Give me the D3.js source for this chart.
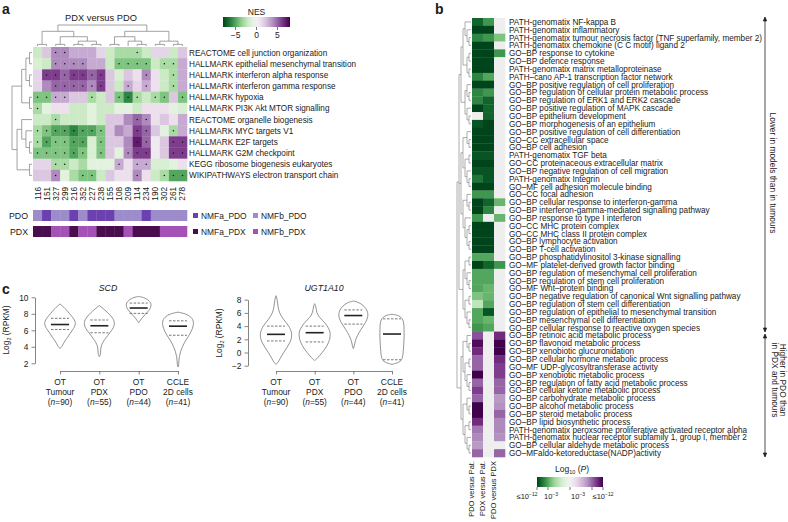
<!DOCTYPE html>
<html><head><meta charset="utf-8">
<script src="https://cdn.jsdelivr.net/npm/d3@7"></script>
<style>
body{margin:0;background:#fff}
svg{display:block}
text{font-family:"Liberation Sans",Arial,Helvetica,sans-serif;fill:#1a1a1a}
</style></head><body>
<svg id="chart" width="788" height="522"></svg>
<script>
// ================= DATA =================
// Panel a: NES heatmap (PDX versus PDO)
const nesSamples = ["116","151","327","299","216","352","227","238","155","108","209","114","234","190","302","261","278"];
const nesPathways = [
 "REACTOME cell junction organization",
 "HALLMARK epithelial mesenchymal transition",
 "HALLMARK interferon alpha response",
 "HALLMARK interferon gamma response",
 "HALLMARK hypoxia",
 "HALLMARK PI3K Akt MTOR signalling",
 "REACTOME organelle biogenesis",
 "HALLMARK MYC targets V1",
 "HALLMARK E2F targets",
 "HALLMARK G2M checkpoint",
 "KEGG ribosome biogenesis eukaryotes",
 "WIKIPATHWAYS electron transport chain"];
const nesValues = [
 [-2,2,4,4,3,3,3,1.5,-2,-3,-3,-3,-2,1.5,1.5,-2,2],
 [-1.5,-2,4,4,4,4,3,3,-2,-4,-4,-4,-4,-2,-3,-3,3],
 [1.5,6,6,5,6,6,5,6,2,-1.5,2,1,4,1,-2,-3,3],
 [1.5,4,5,5,5,5,4,6,2,-2,3,1.5,3,1,-2,-3,3],
 [-4,-4,3,3,2,2,-3,-2,2,-4,-6,-3,-2,-3,-4,2,-4],
 [-3,-1,1,1,-2,-2,-1,-2,-2,-1,-1,-2,1,1,1,-1,-1.5],
 [-2,-2,-3,-2,-2,-2,-1,-2,2,2,4,5,4,1,2,1,3],
 [-3,-4,-5,-5,-6,-5,-5,-4,2,4,3,6,5,2,-1,-3,3],
 [-3,-5,-4,-4,-5,-5,-1.5,-4,2,2,4,7,5,0.5,2,6,6],
 [-4,-4,-4,-4,-5,-4,-1.5,-4,2,-1,4,6,6,0.5,2,6,6],
 [1.5,1.5,-3,-3,-2,-3,-1,-1,-1,3,1,3,3,-1.5,-1.5,-1,1],
 [2,2,4,-1,-3,-4,-4,-2,2,1,1,4,1,-2,-3,-5,-5]];
const nesSignificant = [
 [0,0,1,1,0,0,0,0,0,0,0,1,0,0,0,0,0],
 [0,0,1,1,1,1,0,0,0,1,1,1,1,0,1,1,0],
 [0,1,1,1,1,1,1,1,0,0,0,0,1,0,0,1,0],
 [0,0,1,1,1,1,1,1,0,0,1,0,1,0,0,1,0],
 [1,1,1,1,0,0,1,0,0,1,1,1,0,1,1,0,1],
 [1,0,0,0,0,0,0,0,0,0,0,0,0,0,0,0,0],
 [0,0,1,0,0,0,0,0,0,0,0,1,1,0,0,0,0],
 [1,1,1,1,1,1,1,1,0,0,0,1,1,0,0,1,0],
 [1,1,1,1,1,1,0,1,0,0,0,1,1,0,0,1,1],
 [1,1,1,1,1,1,0,1,0,0,1,1,1,0,0,1,1],
 [0,0,1,1,0,0,0,0,0,1,0,1,1,0,0,0,0],
 [0,0,1,0,0,1,1,0,0,0,0,1,0,0,1,1,1]];
const pdoCluster = ["b","a","b","b","a","b","a","a","a","b","b","b","a","b","b","b","b"];
const pdxCluster = ["a","a","b","b","a","b","b","a","a","a","b","a","a","a","b","b","b"];
const clusterNames = {PDO:["NMFa_PDO","NMFb_PDO"], PDX:["NMFa_PDX","NMFb_PDX"]};
const nesTicks = [-5,0,5];
// dendrogram topologies (leaf = row/column index)
const nesColTree = [[[0,1],[[2,3],[[4,5],[6,7]]]],[[[8,9],[10,[11,12]]],[[13,14],[15,16]]]];
const nesRowTree = [[[[0,1],[2,3]],[4,5]],[[6,[7,[8,9]]],[10,11]]];

// Panel b: enrichment heatmap (signed -log10 P; negative = lower, positive = higher; null = n.s.)
const bComparisons = ["PDO versus Pat.","PDX versus Pat.","PDO versus PDX"];
const bTerms = [
 "PATH-genomatix NF-kappa B","PATH-genomatix inflammatory",
 "PATH-genomatix tumour necrosis factor (TNF superfamily, member 2)",
 "PATH-genomatix chemokine (C C motif) ligand 2","GO–BP response to cytokine","GO–BP defence response",
 "PATH-genomatix matrix metalloproteinase","PATH–cano AP-1 transcription factor network",
 "GO–BP positive regulation of cell proliferation","GO–BP regulation of cellular protein metabolic process",
 "GO–BP regulation of ERK1 and ERK2 cascade","GO–BP positive regulation of MAPK cascade",
 "GO–BP epithelium development","GO–BP morphogenesis of an epithelium",
 "GO–BP positive regulation of cell differentiation","GO–CC extracellular space","GO–BP cell adhesion",
 "PATH-genomatix TGF beta","GO–CC proteinaceous extracellular matrix","GO–BP negative regulation of cell migration",
 "PATH-genomatix Integrin","GO–MF cell adhesion molecule binding","GO–CC focal adhesion",
 "GO–BP cellular response to interferon-gamma","GO–BP interferon-gamma-mediated signalling pathway",
 "GO–BP response to type I interferon","GO–CC MHC protein complex","GO–CC MHC class II protein complex",
 "GO–BP lymphocyte activation","GO–BP T-cell activation","GO–BP phosphatidylinositol 3-kinase signalling",
 "GO–MF platelet-derived growth factor binding","GO–BP regulation of mesenchymal cell proliferation",
 "GO–BP regulation of stem cell proliferation","GO–MF Wnt–protein binding",
 "GO–BP negative regulation of canonical Wnt signalling pathway","GO–BP regulation of stem cell differentiation",
 "GO–BP regulation of epithelial to mesenchymal transition","GO–BP mesenchymal cell differentiation",
 "GO–BP cellular response to reactive oxygen species","GO–BP retinoic acid metabolic process",
 "GO–BP flavonoid metabolic process","GO–BP xenobiotic glucuronidation","GO–BP cellular hormone metabolic process",
 "GO–MF UDP-glycosyltransferase activity","GO–BP xenobiotic metabolic process",
 "GO–BP regulation of fatty acid metabolic process","GO–BP cellular ketone metabolic process",
 "GO–BP carbohydrate metabolic process","GO–BP alcohol metabolic process","GO–BP steroid metabolic process",
 "GO–BP lipid biosynthetic process","PATH-genomatix peroxsome proliferative activated receptor alpha",
 "PATH-genomatix nuclear receptor subfamily 1, group I, member 2","GO–BP cellular aldehyde metabolic process",
 "GO–MFaldo-ketoreductase(NADP)activity"];
const bPdoVsPat = [-10,-12,-8,-12,-12,-12,-12,-8,-12,-8,-8,-12,null,-11,-12,-12,-12,-11,-12,-11,-9,-12,-7,-12,-12,-7,-12,-12,-12,-12,-6,-12,-6,-6,-6,-4,-2,-6,-6,-7,
 7,11,9,6,6,12,6,8,6,12,12,9,5,4,3,6];
const bPdxVsPat = [-7,-12,-7,-12,-12,-12,-12,-6,-12,-7,-10,-10,-10,-12,-12,-12,-12,-11,-12,-11,-11,-12,-7,-10,-8,null,-12,-12,-12,-12,-6,-10,-6,-6,-5,-5,-6,-11,-5,-6,
 null,null,null,null,null,null,null,null,null,null,null,null,null,null,null,null];
const bPdoVsPdx = [null,null,-4,null,-7,null,null,null,null,null,null,null,null,null,null,null,null,null,null,null,null,null,null,-5,null,-5,null,null,null,null,null,-7,null,null,null,null,null,null,null,null,
 9,12,12,9,8,8,6,6,3,3.5,6,4,4,3.5,null,6];
const bTicks = [-12,-3,3,12];
const bRowTree = [
 [
  [[[0,[1,[2,3]]],[[4,5],[6,7]]],[[8,[9,10]],[11,[12,13]]]],
  [[[14,[15,16]],[[17,18],[19,[20,21]]]],[[22,[23,24]],[25,[[26,27],[28,29]]]]],
  [[[30,31],[32,[33,34]]],[[35,36],[37,[38,39]]]]
 ],
 [[[40,[41,42]],[[43,44],[45,[46,47]]]],[[48,[49,50]],[[51,52],[53,[54,55]]]]]
];

// Panel c: violin plots (knots: [log2 RPKM, relative density width])
const vGroups = [["OT","Tumour","90"],["OT","PDX","55"],["OT","PDO","44"],["CCLE","2D cells","41"]];
const scdShapes = [
 [[3.8,0],[4.0,0.12],[4.4,0.2],[5.0,0.42],[5.6,0.62],[6.2,0.85],[6.8,1],[7.4,0.88],[8.0,0.6],[8.6,0.35],[9.0,0.12],[9.2,0]],
 [[2.8,0],[3.0,0.07],[3.5,0.08],[4.0,0.1],[4.5,0.2],[5.0,0.38],[5.7,0.65],[6.3,0.9],[7.0,0.97],[7.6,0.8],[8.2,0.5],[8.7,0.2],[9.0,0]],
 [[6.9,0],[7.2,0.1],[7.6,0.25],[8.0,0.45],[8.4,0.65],[8.9,0.78],[9.3,0.78],[9.7,0.6],[10.0,0.3],[10.1,0]],
 [[1.55,0],[1.8,0.05],[2.3,0.05],[2.8,0.08],[3.4,0.15],[4.0,0.27],[4.7,0.45],[5.4,0.7],[6.2,0.92],[7.0,1],[7.6,0.85],[8.0,0.5],[8.2,0]]];
const scdStats = [[6.1,6.7,7.45],[5.7,6.55,7.25],[8.05,8.7,9.3],[5.4,6.5,7.15]]; // q1, median, q3
const ugtShapes = [
 [[-1.8,0],[-1.6,0.1],[-1,0.24],[0,0.47],[1,0.76],[2,0.97],[3,1],[4,0.82],[5,0.47],[6,0.2],[7,0.12],[8,0.08],[8.6,0]],
 [[-1.2,0],[-1,0.12],[-0.5,0.3],[0.5,0.65],[1.5,0.88],[2.5,1],[3.5,0.94],[4.5,0.65],[5.3,0.3],[6,0.12],[7,0.08],[7.4,0]],
 [[0.6,0],[1,0.06],[1.8,0.12],[2.5,0.24],[3.5,0.47],[4.5,0.76],[5.5,0.94],[6.3,0.88],[7,0.7],[7.6,0.35],[7.8,0]],
 [[-1.8,0],[-1.5,0.47],[-1,0.65],[0,0.7],[2,0.76],[4,0.76],[5,0.7],[5.6,0.47],[5.8,0]]];
const ugtStats = [[1.75,2.75,4.0],[1.6,3.0,4.0],[4.3,5.6,6.45],[-1.1,2.8,5.1]];
const scdTicks = [2,4,6,8,10];
const ugtTicks = [-2,0,2,4,6,8];

// ================= DRAWING =================
const svg = d3.select("#chart");
const GRAY = "#8a8a8a";

function dendro(g, tree, leafPos, hPos, orient){
  const H = (function height(n){return Array.isArray(n)? d3.max(n,height)+1 : 0;})(tree);
  function walk(n){
    if(!Array.isArray(n)) return {h:0,p:leafPos(n)};
    const k = n.map(walk);
    const h = d3.max(k,d=>d.h)+1;
    const hp = hPos(h/H), p=(k[0].p+k[k.length-1].p)/2;
    const seg = (a,b,c,d)=> orient==="top" ? [[a,b],[c,d]] : [[b,a],[d,c]];
    k.forEach(c=>{
      const s = seg(c.p, hPos(c.h/H), c.p, hp);
      g.append("line").attr("x1",s[0][0]).attr("y1",s[0][1]).attr("x2",s[1][0]).attr("y2",s[1][1]);
    });
    const s = seg(k[0].p,hp,k[k.length-1].p,hp);
    g.append("line").attr("x1",s[0][0]).attr("y1",s[0][1]).attr("x2",s[1][0]).attr("y2",s[1][1]);
    return {h,p};
  }
  walk(tree);
}

// ---- Panel labels
[["a",2,14],["b",435,14],["c",2,294]].forEach(([t,x,y])=>
  svg.append("text").attr("x",x).attr("y",y).attr("font-size",14).attr("font-weight","bold").text(t));

// ---- Panel a
const nesColor = v => d3.interpolatePRGn(Math.max(0,Math.min(1,(8-v)/16)));
const ax = d3.scaleBand().domain(d3.range(nesSamples.length)).range([33,187]);
const ay = d3.scaleBand().domain(d3.range(nesPathways.length)).range([47,181]);
const ga = svg.append("g");
svg.append("text").attr("x",101).attr("y",21).attr("text-anchor","middle").attr("font-size",9.3).text("PDX versus PDO");
nesValues.forEach((row,i)=>row.forEach((v,j)=>{
  ga.append("rect").attr("x",ax(j)).attr("y",ay(i)).attr("width",ax.bandwidth()+0.3).attr("height",ay.bandwidth()+0.3).attr("fill",nesColor(v));
  if(nesSignificant[i][j]) ga.append("circle").attr("cx",ax(j)+ax.bandwidth()/2).attr("cy",ay(i)+ay.bandwidth()/2).attr("r",0.75).attr("fill","#111");
}));
nesPathways.forEach((p,i)=>svg.append("text").attr("x",189).attr("y",ay(i)+ay.bandwidth()/2+3).attr("font-size",8.2).text(p));
nesSamples.forEach((s,j)=>svg.append("text").attr("transform",`translate(${ax(j)+ax.bandwidth()/2+3},187) rotate(-90)`).attr("text-anchor","end").attr("font-size",8.2).text(s));
const gcd = svg.append("g").attr("stroke",GRAY).attr("stroke-width",0.8);
dendro(gcd, nesColTree, i=>ax(i)+ax.bandwidth()/2, t=>46-21*Math.pow(t,1.6), "top");
const grd = svg.append("g").attr("stroke",GRAY).attr("stroke-width",0.8);
dendro(grd, nesRowTree, i=>ay(i)+ay.bandwidth()/2, t=>32-20*Math.pow(t,1.3), "left");

// NMF cluster bars
const nmfColors = {NMFa_PDO:"#6b40b0",NMFb_PDO:"#9d8ccc",NMFa_PDX:"#4a0d4e",NMFb_PDX:"#a452b5"};
[["PDO",pdoCluster,210],["PDX",pdxCluster,226]].forEach(([name,cl,y])=>{
  svg.append("text").attr("x",28).attr("y",y+8.5).attr("text-anchor","end").attr("font-size",8.8).text(name);
  cl.forEach((c,j)=>svg.append("rect").attr("x",ax(j)).attr("y",y).attr("width",ax.bandwidth()+0.3).attr("height",11)
    .attr("fill",nmfColors[c==="a"?clusterNames[name][0]:clusterNames[name][1]]));
  clusterNames[name].forEach((n,k)=>{
    const lx = 193+k*60;
    svg.append("rect").attr("x",lx).attr("y",y+3).attr("width",5).attr("height",5).attr("fill",nmfColors[n]);
    svg.append("text").attr("x",lx+8).attr("y",y+8.5).attr("font-size",8.4).text(n);
  });
});

// NES legend
const defs = svg.append("defs");
const nesLeg = d3.scaleLinear().domain([-8,8]).range([223,290]);
const lg1 = defs.append("linearGradient").attr("id","gNES");
d3.range(21).forEach(i=>lg1.append("stop").attr("offset",i/20).attr("stop-color",nesColor(-8+16*i/20)));
svg.append("text").attr("x",256.5).attr("y",15).attr("text-anchor","middle").attr("font-size",8.5).text("NES");
svg.append("rect").attr("x",223).attr("y",17).attr("width",67).attr("height",10).attr("fill","url(#gNES)");
nesTicks.forEach(t=>{
  svg.append("line").attr("x1",nesLeg(t)).attr("x2",nesLeg(t)).attr("y1",27).attr("y2",30).attr("stroke","#333").attr("stroke-width",0.7);
  svg.append("text").attr("x",nesLeg(t)).attr("y",38).attr("text-anchor","middle").attr("font-size",8.5).text(t<0?"−"+Math.abs(t):t);
});

// ---- Panel b
const tP = d3.scaleLinear().domain([-12,-3,0,3,12]).range([1,0.72,0.5,0.28,0]).clamp(true);
const pColor = v => v===null ? "#eeeeee" : d3.interpolatePRGn(tP(v));
const bx = d3.scaleBand().domain(d3.range(3)).range([472,505]);
const by = d3.scaleBand().domain(d3.range(bTerms.length)).range([18,457]);
const gb = svg.append("g");
[bPdoVsPat,bPdxVsPat,bPdoVsPdx].forEach((col,j)=>col.forEach((v,i)=>
  gb.append("rect").attr("x",bx(j)).attr("y",by(i)).attr("width",bx.bandwidth()+0.3).attr("height",by.bandwidth()+0.3).attr("fill",pColor(v))));
bTerms.forEach((t,i)=>svg.append("text").attr("x",509).attr("y",by(i)+by.bandwidth()/2+3).attr("font-size",8.2).text(t));
bComparisons.forEach((c,j)=>svg.append("text").attr("transform",`translate(${bx(j)+1.5},461) rotate(-90)`).attr("text-anchor","end").attr("font-size",7.5).text(c));
const gbd = svg.append("g").attr("stroke",GRAY).attr("stroke-width",0.7);
dendro(gbd, bRowTree, i=>by(i)+by.bandwidth()/2, t=>471-14*t, "left");

// arrows on right
const arr = svg.append("g").attr("stroke","#222").attr("stroke-width",0.8).attr("fill","#222");
function vArrow(y1,y2){
  arr.append("line").attr("x1",765).attr("x2",765).attr("y1",y1).attr("y2",y2);
  arr.append("path").attr("d",`M765,${y1-1}l-1.6,4h3.2z`);
  arr.append("path").attr("d",`M765,${y2+1}l-1.6,-4h3.2z`);
}
vArrow(18,331); vArrow(335,456);
svg.append("text").attr("transform","translate(770,173) rotate(90)").attr("text-anchor","middle").attr("font-size",8.4).text("Lower in models than in tumours");
svg.append("text").attr("transform","translate(780,380) rotate(90)").attr("text-anchor","middle").attr("font-size",8.4).text("Higher in PDO than");
svg.append("text").attr("transform","translate(772,380) rotate(90)").attr("text-anchor","middle").attr("font-size",8.4).text("in PDX and tumours");

// P legend
const pLeg = d3.scaleLinear().domain([-12,-3,0,3,12]).range([537,553.5,570,586.5,603]);
const lg2 = defs.append("linearGradient").attr("id","gP");
d3.range(41).forEach(i=>{const x=537+66*i/40; lg2.append("stop").attr("offset",i/40).attr("stop-color",pColor(pLeg.invert(x)));});
const lt = svg.append("text").attr("x",572).attr("y",472).attr("text-anchor","middle").attr("font-size",8.5);
lt.append("tspan").text("Log");
lt.append("tspan").attr("font-size",5.5).attr("dy",2).text("10");
lt.append("tspan").attr("dy",-2).text(" (");
lt.append("tspan").attr("font-style","italic").text("P");
lt.append("tspan").text(")");
svg.append("rect").attr("x",537).attr("y",477).attr("width",66).attr("height",10).attr("fill","url(#gP)");
[-12,-6,0,6,12].forEach(t=>svg.append("line").attr("x1",pLeg(t)).attr("x2",pLeg(t)).attr("y1",487).attr("y2",490).attr("stroke","#333").attr("stroke-width",0.7));
const tickLab = [[-12,"≤10","−12",527],[-3,"10","−3",551],[3,"10","−3",578],[12,"≤10","−12",603]];
tickLab.forEach(([v,b,e,x])=>{
  const t=svg.append("text").attr("x",x).attr("y",499).attr("text-anchor","middle").attr("font-size",7.5);
  t.append("tspan").text(b); t.append("tspan").attr("font-size",5).attr("dy",-3).text(e);
});

// ---- Panel c
function violinPlot(title, titleX, axisX, xr, yDom, yRange, ticks, shapes, stats){
  const g = svg.append("g");
  const x = d3.scalePoint().domain(d3.range(vGroups.length)).range(xr);
  const y = d3.scaleLinear().domain(yDom).range(yRange);
  svg.append("text").attr("x",titleX).attr("y",291).attr("text-anchor","middle").attr("font-size",8.8).attr("font-style","italic").text(title);
  const ya = g.append("g").attr("transform",`translate(${axisX},0)`).call(d3.axisLeft(y).tickValues(ticks).tickSize(3.5).tickSizeOuter(0).tickFormat(d=>d<0?"−"+Math.abs(d):d));
  ya.selectAll("path,line").attr("stroke","#666").attr("stroke-width",0.8);
  ya.selectAll("text").attr("font-size",8.4).attr("font-family",'"Liberation Sans",Arial,sans-serif').attr("fill","#222");
  const xa = g.append("g").attr("transform","translate(0,371)").call(d3.axisBottom(x).tickSize(3.5).tickSizeOuter(0).tickFormat(""));
  xa.selectAll("path,line").attr("stroke","#666").attr("stroke-width",0.8);
  vGroups.forEach((lab,i)=>{
    const cx=x(i);
    [lab[0],lab[1]].forEach((s,k)=>g.append("text").attr("x",cx).attr("y",385+k*10).attr("text-anchor","middle").attr("font-size",8.4).text(s));
    const t=g.append("text").attr("x",cx).attr("y",405).attr("text-anchor","middle").attr("font-size",8.4);
    t.append("tspan").text("("); t.append("tspan").attr("font-style","italic").text("n");
    t.append("tspan").text("="+lab[2]+")");
    const area = d3.area().y(d=>y(d[0])).x0(d=>cx-16*d[1]).x1(d=>cx+16*d[1]).curve(d3.curveBasis);
    g.append("path").attr("d",area(shapes[i])).attr("fill","none").attr("stroke","#777").attr("stroke-width",0.8);
    const [q1,md,q3]=stats[i];
    [q1,q3].forEach(q=>g.append("line").attr("x1",cx-9).attr("x2",cx+9).attr("y1",y(q)).attr("y2",y(q)).attr("stroke","#555").attr("stroke-width",0.8).attr("stroke-dasharray","2.5,1.5"));
    g.append("line").attr("x1",cx-9).attr("x2",cx+9).attr("y1",y(md)).attr("y2",y(md)).attr("stroke","#222").attr("stroke-width",1.6);
  });
  return g;
}
violinPlot("SCD",108,35,[60,178],[2,10],[363.3,297.3],scdTicks,scdShapes,scdStats);
violinPlot("UGT1A10",324,248,[276,392],[-2,8],[365.7,299.7],ugtTicks,ugtShapes,ugtStats);
[[9,330],[222,333]].forEach(([x,yc])=>{
  const t=svg.append("text").attr("transform",`translate(${x},${yc}) rotate(-90)`).attr("text-anchor","middle").attr("font-size",8.4);
  t.append("tspan").text("Log"); t.append("tspan").attr("font-size",5.5).attr("dy",2).text("2");
  t.append("tspan").attr("dy",-2).text(" (RPKM)");
});
</script></body></html>
